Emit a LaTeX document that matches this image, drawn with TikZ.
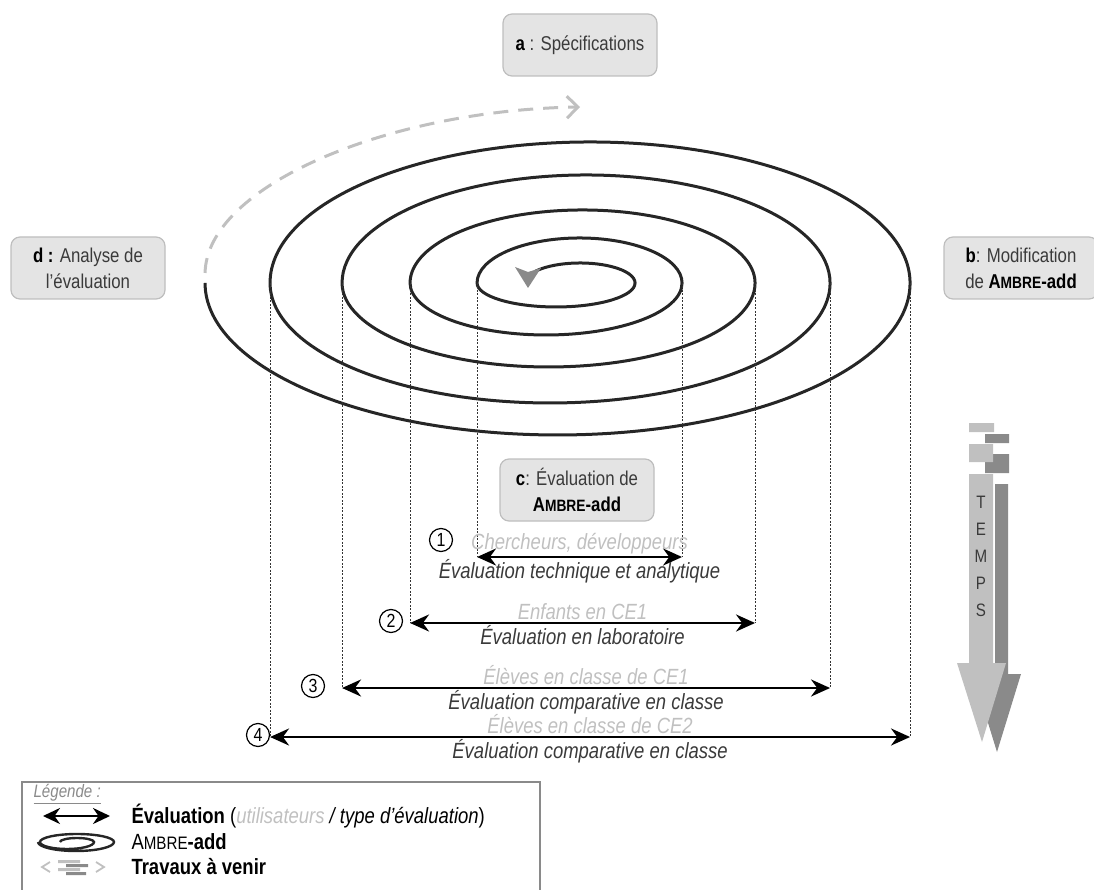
\documentclass[tikz,border=0pt]{standalone}
\usepackage{fontspec}
\setmainfont{Liberation Sans}[FakeStretch=0.84]
\usepackage{tikz}
\usetikzlibrary{arrows.meta,positioning,calc}
\definecolor{mBoxFill}{HTML}{E4E4E4}
\definecolor{mBoxLine}{HTML}{BEBEBE}
\definecolor{mLight}{HTML}{C0C0C0}
\definecolor{mDark}{HTML}{8A8A8A}
\definecolor{mText}{HTML}{3A3A3A}
\newcommand{\ambre}{A\scalebox{0.82}{MBRE}-add}
\newcommand{\lettre}[1]{{\color{black}\bfseries #1}}

\begin{document}
\begin{tikzpicture}[x=1pt, y=-1pt, font=\fontsize{22}{26}\selectfont,
  etape/.style={draw=mBoxLine, fill=mBoxFill, rounded corners=9pt, line width=1.2pt, align=center,
    minimum width=154pt, minimum height=62pt, text=mText, font=\fontsize{20}{26}\selectfont},
  spir/.style={line width=3pt, black!85},
  pt/.style={dash pattern=on 2pt off 1.5pt, line width=1.1pt, black!80},
  ev/.style={{Stealth[length=19pt,width=17pt]}-{Stealth[length=19pt,width=17pt]}, line width=2.6pt},
  usr/.style={text=mLight, font=\fontsize{22}{24}\selectfont\itshape, inner sep=2pt},
  typ/.style={text=mText, font=\fontsize{22}{24}\selectfont\itshape, inner sep=1pt},
  num/.style={circle, draw, line width=1.2pt, inner sep=0pt, minimum size=23pt, font=\fontsize{19}{19}\selectfont},
  avenir/.style={mLight, line width=3pt, dash pattern=on 15pt off 10pt, -{Straight Barb[length=11pt,width=22pt]}}]
\useasboundingbox (0,0) rectangle (1094,890);

% les quatre etapes
\node[etape] (spec) at (580,45) {\lettre{a} : Spécifications};
\node[etape] (modif) at (1021,268) {\lettre{b}: Modification\\de \lettre{\ambre}};
\node[etape] (evalc) at (577,490) {\lettre{c}: Évaluation de\\\lettre{\ambre}};
\node[etape] (analyse) at (88,268) {\lettre{d :} Analyse de\\l'évaluation};

% la spirale
\draw[spir] (535,271.5)
  arc[start angle=215, end angle=360, x radius=55, y radius=20]
  arc[start angle=0, end angle=180, x radius=79, y radius=24] coordinate (g1)
  arc[start angle=180, end angle=360, x radius=102.5, y radius=45] coordinate (d1)
  arc[start angle=0, end angle=180, x radius=136, y radius=52] coordinate (g2)
  arc[start angle=180, end angle=360, x radius=172.5, y radius=73] coordinate (d2)
  arc[start angle=0, end angle=180, x radius=206.5, y radius=84] coordinate (g3)
  arc[start angle=180, end angle=360, x radius=244, y radius=108] coordinate (d3)
  arc[start angle=0, end angle=180, x radius=280, y radius=120] coordinate (g4)
  arc[start angle=180, end angle=360, x radius=320, y radius=141] coordinate (d4)
  arc[start angle=0, end angle=180, x radius=352.5, y radius=152] coordinate (g5);
\fill[mDark] (515,267) -- (528,272) -- (541,268) -- (528,288) -- cycle;
\coordinate (fin) at (580,107);
\draw[avenir] ([yshift=10pt]g5) .. controls (207,185) and (390,110) .. (fin);

% les evaluations
\foreach \i/\y/\us/\ty in {1/557/{Chercheurs, développeurs}/{Évaluation technique et analytique},
    2/623/{Enfants en CE1}/{Évaluation en laboratoire},
    3/688/{Élèves en classe de CE1}/{Évaluation comparative en classe},
    4/737/{Élèves en classe de CE2}/{Évaluation comparative en classe}}{
  \draw[pt] (g\i) -- (g\i |- 0,\y) (d\i) -- (d\i |- 0,\y);
  \draw[ev] (g\i |- 0,\y) -- node[usr, above]{\us} node[typ, below]{\ty} (d\i |- 0,\y);
}
\node[num] (n1) at (441,540) {1};
\node[num] (n2) at (391,621) {2};
\node[num] (n3) at (313,686) {3};
\node[num] (n4) at (258,735) {4};

% fleche du temps
\fill[mDark] (985,434) rectangle (1009,443) (985,454) rectangle (1009,473) (995,484) rectangle (1008,674)
  (973,674) -- (1021,674) -- (997,752) -- cycle;
\fill[mLight] (969,423) rectangle (994,432) (969,444) rectangle (993,462) (969,474) rectangle (993,663)
  (957,663) -- (1006,663) -- (982,742) -- cycle;
\node[align=center, text=mText, font=\fontsize{18}{27}\selectfont] (temps) at (981,556) {T\\E\\M\\P\\S};

% legende
\draw[mDark, line width=1.6pt] (22,892) |- (540,782) -- (540,892);
\node[anchor=west, text=mDark, font=\fontsize{18}{20}\selectfont\itshape] (leg) at (30,794) {\underline{Légende :}};
\coordinate (i1a) at (43,816); \coordinate (i1b) at (110,816);
\draw[ev, {Stealth[length=17pt,width=16pt]}-{Stealth[length=17pt,width=16pt]}] (i1a) -- (i1b);
\node[anchor=west] (t1) at (128,816) {\textbf{Évaluation} ({\itshape\color{mLight}utilisateurs} {\itshape / type d'évaluation})};
\draw[spir, line width=2.4pt] (60,842) arc[start angle=180, end angle=360, x radius=17, y radius=4]
  arc[start angle=0, end angle=180, x radius=27, y radius=7]
  arc[start angle=180, end angle=360, x radius=37, y radius=8]
  arc[start angle=0, end angle=180, x radius=38, y radius=9];
\node[anchor=west] (t2) at (128,842) {A\scalebox{0.82}{MBRE}\textbf{-add}};
\draw[mLight, line width=1.8pt] (50,862) -- (42,867) -- (50,872) (96,862) -- (104,867) -- (96,872);
\fill[mLight] (58,860) rectangle (80,863) (58,868) rectangle (80,871);
\fill[mDark] (66,864) rectangle (88,867) (66,872) rectangle (86,875);
\node[anchor=west] (t3) at (128,867) {\textbf{Travaux à venir}};
\end{tikzpicture}
\end{document}
